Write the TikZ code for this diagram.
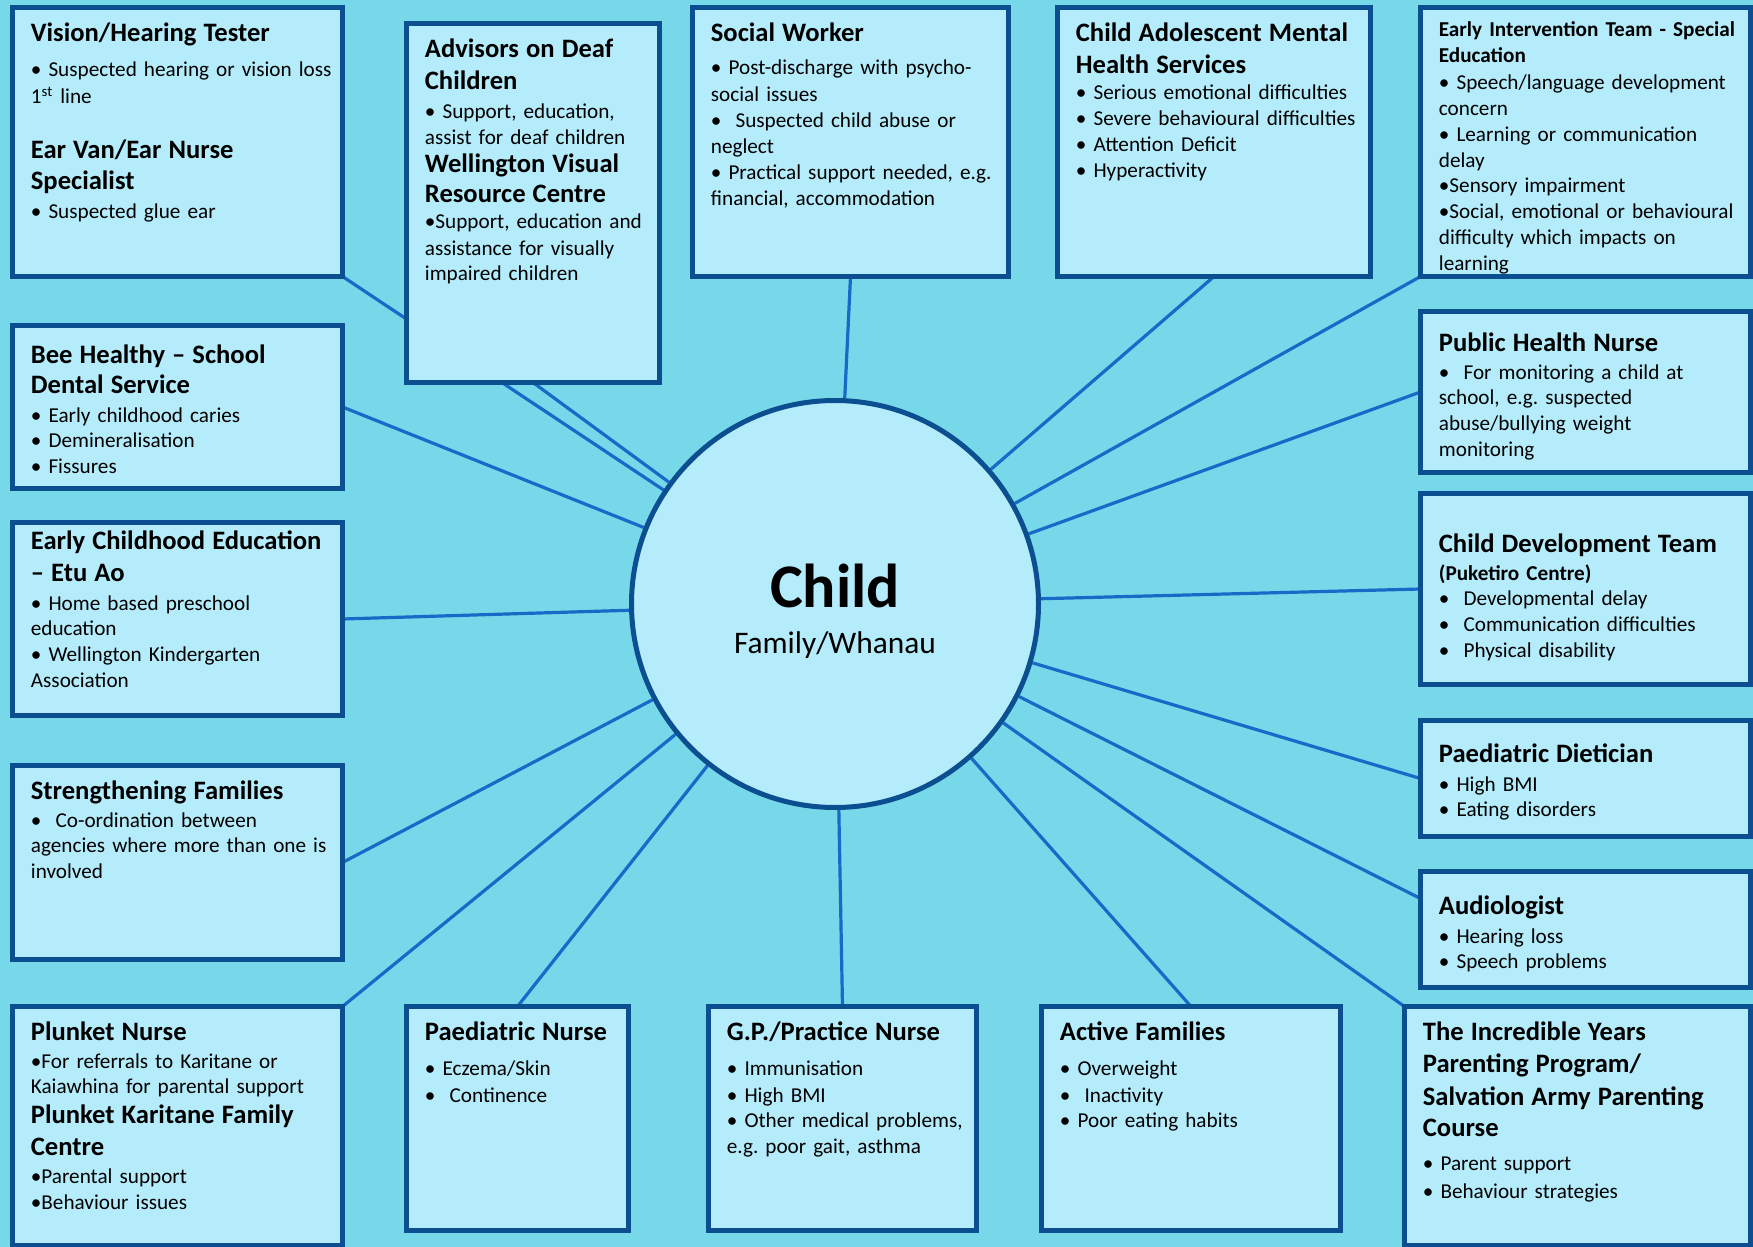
\documentclass[tikz,border=0pt]{standalone}
\usepackage{fontspec}
\setmainfont{Carlito}
\usetikzlibrary{positioning}
\usetikzlibrary{calc}

\definecolor{seacyan}{RGB}{118,216,232}
\definecolor{palecyan}{RGB}{181,236,251}
\definecolor{edgeblue}{RGB}{12,79,145}
\definecolor{spokeblue}{RGB}{24,106,200}

\pgfdeclarelayer{back}
\pgfdeclarelayer{spokes}
\pgfsetlayers{back,spokes,main}

\frenchspacing
\newcommand{\hd}[1]{{\fontsize{13.3}{12.9}\selectfont\bfseries #1}}

\begin{document}
\begin{tikzpicture}[
	x=0.5pt, y=-0.5pt,
	agency/.style={rectangle, draw=edgeblue, fill=palecyan, line width=2.5pt, inner sep=0pt, outer sep=0pt, anchor=north west},
	info/.style={inner sep=0pt, anchor=base west, align=left, font=\fontsize{10.6}{12.9}\selectfont\frenchspacing},
	hub/.style={circle, draw=edgeblue, fill=palecyan, line width=2.5pt, minimum size=203.5pt, inner sep=0pt},
	link/.style={draw=spokeblue, line width=1.6pt},
	]

	\useasboundingbox (0,0) rectangle (1753,1247);
	\begin{pgfonlayer}{back}
		\fill[seacyan] (0,0) rectangle (1753,1247);
	\end{pgfonlayer}

	\node[hub] (child) at (835,604) {};
	\node[font=\fontsize{31}{36}\selectfont\bfseries, inner sep=0pt, anchor=base] (childname) at (835,607) {Child};
	\node[font=\fontsize{15.7}{18}\selectfont, inner sep=0pt, anchor=base] (family) at (835,653) {Family/Whanau};

	% top row
	\node[agency, minimum width=165pt, minimum height=134.5pt] (vht) at (12.5,7.5) {};
	\node[info, text width=156pt] (vhtx) at ([shift={(18,34.5)}]vht.north west) {\hd{Vision/Hearing Tester}\\[4.6pt]
		• Suspected hearing or vision loss\\[0.6pt]
		1\textsuperscript{st} line\\[14.6pt]
		\hd{Ear Van/Ear Nurse}\\[2.6pt]
		\hd{Specialist}\\[1.6pt]
		• Suspected glue ear};

	\node[agency, minimum width=126.5pt, minimum height=179.5pt] (adv) at (406.5,23.5) {};
	\node[info, text width=118pt] (advx) at ([shift={(18,34)}]adv.north west) {\hd{Advisors on Deaf}\\[3.1pt]
		\hd{Children}\\[1.6pt]
		• Support, education,\\
		assist for deaf children\\[1.1pt]
		\hd{Wellington Visual}\\[2.1pt]
		\hd{Resource Centre}\\
		•Support, education and\\[0.6pt]
		assistance for visually\\
		impaired children};

	\node[agency, minimum width=158pt, minimum height=134.5pt] (sw) at (692.5,7.5) {};
	\node[info, text width=149pt] (swx) at ([shift={(18,34.5)}]sw.north west) {\hd{Social Worker}\\[3.6pt]
		• Post-discharge with psycho-\\[0.6pt]
		social issues\\
		•\ \ Suspected child abuse or\\
		neglect\\
		• Practical support needed, e.g.\\
		financial, accommodation};

	\node[agency, minimum width=156.5pt, minimum height=134.5pt] (camhs) at (1057.5,7.5) {};
	\node[info, text width=148pt] (camhsx) at ([shift={(18,34.5)}]camhs.north west) {\hd{Child Adolescent Mental}\\[3.1pt]
		\hd{Health Services}\\
		• Serious emotional difficulties\\
		• Severe behavioural difficulties\\
		• Attention Deficit\\
		• Hyperactivity};

	\node[agency, minimum width=165pt, minimum height=134.5pt] (eit) at (1420.5,7.5) {};
	\node[info, text width=156pt] (eitx) at ([shift={(18,29.5)}]eit.north west) {\textbf{Early Intervention Team - Special}\\
		\textbf{Education}\\[0.6pt]
		• Speech/language development\\
		concern\\
		• Learning or communication\\
		delay\\
		•Sensory impairment\\
		•Social, emotional or behavioural\\
		difficulty which impacts on\\
		learning};

	% left column
	\node[agency, minimum width=165pt, minimum height=81.5pt] (bee) at (12.5,325.5) {};
	\node[info, text width=156pt] (beex) at ([shift={(18,37.5)}]bee.north west) {\hd{Bee Healthy – School}\\[2.6pt]
		\hd{Dental Service}\\[1.1pt]
		• Early childhood caries\\
		• Demineralisation\\
		• Fissures};

	\node[agency, minimum width=165pt, minimum height=96.5pt] (ece) at (12.5,522.5) {};
	\node[info, text width=156pt] (ecex) at ([shift={(18,26.5)}]ece.north west) {\hd{Early Childhood Education}\\[3.1pt]
		\hd{– Etu Ao}\\[1.6pt]
		• Home based preschool\\
		education\\
		• Wellington Kindergarten\\
		Association};

	\node[agency, minimum width=165pt, minimum height=97pt] (sf) at (12.5,765.5) {};
	\node[info, text width=156pt] (sfx) at ([shift={(18,33.5)}]sf.north west) {\hd{Strengthening Families}\\[1.1pt]
		•\ \ Co-ordination between\\
		agencies where more than one is\\
		involved};

	% bottom row
	\node[agency, minimum width=165pt, minimum height=119.5pt] (plk) at (12.5,1006.5) {};
	\node[info, text width=156pt] (plkx) at ([shift={(18,33.5)}]plk.north west) {\hd{Plunket Nurse}\\[1.1pt]
		•For referrals to Karitane or\\
		Kaiawhina for parental support\\[2.1pt]
		\hd{Plunket Karitane Family}\\[3.1pt]
		\hd{Centre}\\[1.1pt]
		•Parental support\\
		•Behaviour issues};

	\node[agency, minimum width=111pt, minimum height=112pt] (pn) at (406.5,1006.5) {};
	\node[info, text width=102pt] (pnx) at ([shift={(18,33.5)}]pn.north west) {\hd{Paediatric Nurse}\\[4.6pt]
		• Eczema/Skin\\[0.6pt]
		•\ \ Continence};

	\node[agency, minimum width=134pt, minimum height=112pt] (gp) at (708.5,1006.5) {};
	\node[info, text width=125pt] (gpx) at ([shift={(18,33.5)}]gp.north west) {\hd{G.P./Practice Nurse}\\[4.6pt]
		• Immunisation\\[0.6pt]
		• High BMI\\
		• Other medical problems,\\
		e.g. poor gait, asthma};

	\node[agency, minimum width=149.5pt, minimum height=112pt] (af) at (1041.5,1006.5) {};
	\node[info, text width=140pt] (afx) at ([shift={(18,33.5)}]af.north west) {\hd{Active Families}\\[4.6pt]
		• Overweight\\[0.6pt]
		•\ \ Inactivity\\
		• Poor eating habits};

	\node[agency, minimum width=173pt, minimum height=119.5pt] (iy) at (1404.5,1006.5) {};
	\node[info, text width=164pt] (iyx) at ([shift={(18,33.5)}]iy.north west) {\hd{The Incredible Years}\\[3.1pt]
		\hd{Parenting Program/}\\[3.6pt]
		\hd{Salvation Army Parenting}\\[2.6pt]
		\hd{Course}\\[4.1pt]
		• Parent support\\[1.1pt]
		• Behaviour strategies};

	% right column
	\node[agency, minimum width=165pt, minimum height=80.5pt] (phn) at (1420.5,311.5) {};
	\node[info, text width=156pt] (phnx) at ([shift={(18,39.5)}]phn.north west) {\hd{Public Health Nurse}\\[1.1pt]
		•\ \ For monitoring a child at\\
		school, e.g. suspected\\
		abuse/bullying weight\\
		monitoring};

	\node[agency, minimum width=165pt, minimum height=95.5pt] (cdt) at (1420.5,493.5) {};
	\node[info, text width=156pt] (cdtx) at ([shift={(18,58.5)}]cdt.north west) {\hd{Child Development Team}\\[1.1pt]
		\textbf{(Puketiro Centre)}\\
		•\ \ Developmental delay\\
		•\ \ Communication difficulties\\
		•\ \ Physical disability};

	\node[agency, minimum width=165pt, minimum height=58pt] (pd) at (1420.5,720.5) {};
	\node[info, text width=156pt] (pdx) at ([shift={(18,41.5)}]pd.north west) {\hd{Paediatric Dietician}\\[1.6pt]
		• High BMI\\
		• Eating disorders};

	\node[agency, minimum width=165pt, minimum height=58pt] (aud) at (1420.5,871.5) {};
	\node[info, text width=156pt] (audx) at ([shift={(18,42.5)}]aud.north west) {\hd{Audiologist}\\[1.6pt]
		• Hearing loss\\
		• Speech problems};

	\begin{pgfonlayer}{spokes}
		\draw[link] (vht.south east) -- (child);
		\draw[link] (adv.south) -- (child);
		\draw[link] (sw.south) -- (child);
		\draw[link] (camhs.south) -- (child);
		\draw[link] (eit.south west) -- (child);
		\draw[link] (phn.west) -- (child);
		\draw[link] (cdt.west) -- (child);
		\draw[link] (pd.west) -- (child);
		\draw[link] ([shift={(0,27)}]aud.north west) -- (child);
		\draw[link] (iy.north west) -- (child);
		\draw[link] (af.north) -- (child);
		\draw[link] (gp.north) -- (child);
		\draw[link] (pn.north) -- (child);
		\draw[link] (plk.north east) -- (child);
		\draw[link] (sf.east) -- (child);
		\draw[link] (ece.east) -- (child);
		\draw[link] (bee.east) -- (child);
	\end{pgfonlayer}

\end{tikzpicture}
\end{document}
